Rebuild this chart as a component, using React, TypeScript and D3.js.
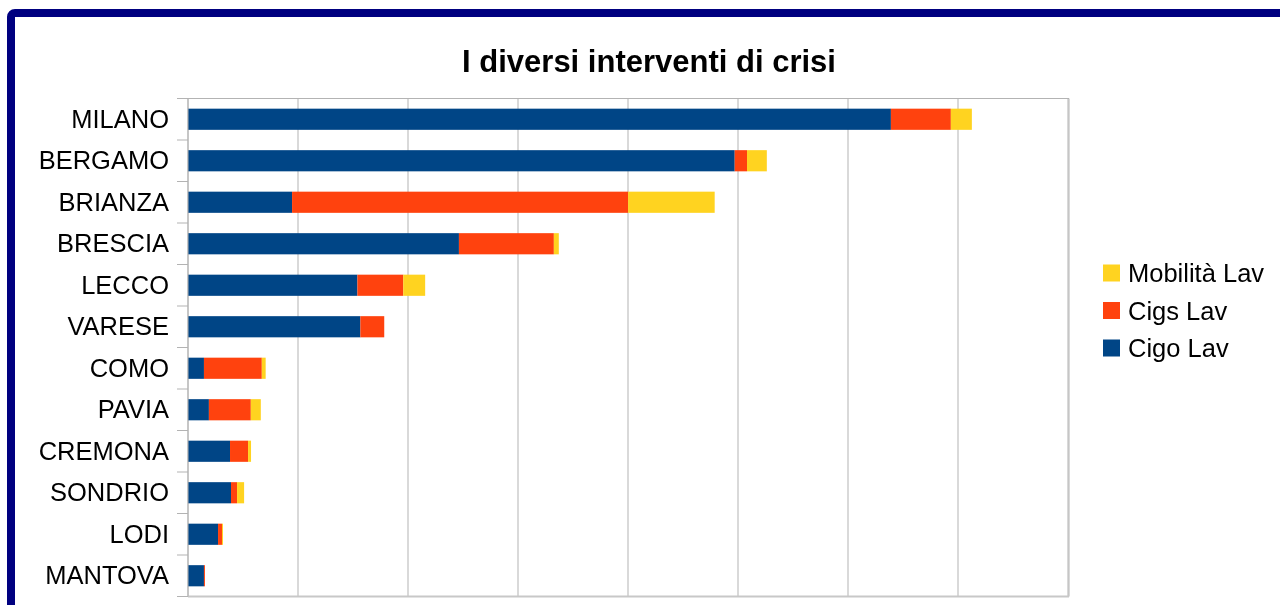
import { useEffect, useRef } from 'react'
import * as d3 from 'd3'

const categories = ['MILANO', 'BERGAMO', 'BRIANZA', 'BRESCIA', 'LECCO', 'VARESE', 'COMO', 'PAVIA', 'CREMONA', 'SONDRIO', 'LODI', 'MANTOVA']
const cigoLav = [63900, 49700, 9460, 24630, 15400, 15670, 1450, 1900, 3820, 3910, 2730, 1450]
const cigsLav = [5450, 1120, 30550, 8630, 4170, 2170, 5260, 3810, 1640, 550, 360, 90]
const mobilitaLav = [1910, 1800, 7870, 450, 1990, 0, 350, 910, 270, 640, 90, 0]
const seriesNames = ['Cigo Lav', 'Cigs Lav', 'Mobilità Lav']
const seriesColors = ['#004586', '#ff420e', '#ffd320']
const xTicks = [0, 10000, 20000, 30000, 40000, 50000, 60000, 70000, 80000]

const FONT = '"Liberation Sans", Arial, sans-serif'

export default function App() {
  const ref = useRef<SVGSVGElement>(null)

  useEffect(() => {
    if (!ref.current) return
    d3.select(ref.current).selectAll('*').remove()
    render(ref.current)
  }, [])

  return (
    <div style={{ position: 'fixed', left: 0, top: 0 }}>
      <svg ref={ref} width={1280} height={605} style={{ display: 'block' }} />
    </div>
  )
}

function render(el: SVGSVGElement) {
  const svg = d3.select(el).style('font-family', FONT)
  const plot = { left: 188, right: 1069, top: 98.5, bottom: 596.5 }

  // frame
  svg.append('rect')
    .attr('x', 11).attr('y', 13)
    .attr('width', 1300).attr('height', 620)
    .attr('rx', 4)
    .attr('fill', '#ffffff')
    .attr('stroke', '#000080')
    .attr('stroke-width', 8)

  // title
  svg.append('text')
    .attr('x', 649).attr('y', 72)
    .attr('text-anchor', 'middle')
    .attr('font-size', 31)
    .attr('font-weight', 'bold')
    .attr('fill', '#000')
    .text('I diversi interventi di crisi')

  const x = d3.scaleLinear().domain([0, 80000]).range([plot.left, plot.right - 1])
  const y = d3.scaleBand().domain(categories).range([plot.top, plot.bottom])
    .paddingInner(0.49).paddingOuter(0.245)

  const g = svg.append('g')

  // vertical gridlines
  g.selectAll('line.grid').data(xTicks).join('line')
    .attr('x1', (d) => x(d)).attr('x2', (d) => x(d))
    .attr('y1', plot.top).attr('y2', plot.bottom)
    .attr('stroke', '#b3b3b3').attr('stroke-width', 1)

  // plot borders top / right / bottom
  g.append('line').attr('x1', plot.left).attr('x2', plot.right)
    .attr('y1', plot.top).attr('y2', plot.top).attr('stroke', '#b3b3b3')
  g.append('line').attr('x1', plot.right).attr('x2', plot.right)
    .attr('y1', plot.top).attr('y2', plot.bottom).attr('stroke', '#b3b3b3')
  g.append('line').attr('x1', plot.left).attr('x2', plot.right)
    .attr('y1', plot.bottom).attr('y2', plot.bottom).attr('stroke', '#c8c8c8').attr('stroke-width', 2)

  // category tick marks at band boundaries
  const step = y.step()
  const bounds = d3.range(categories.length + 1).map((i) => plot.top + i * step)
  g.selectAll('line.tick').data(bounds).join('line')
    .attr('x1', plot.left - 11).attr('x2', plot.left)
    .attr('y1', (d) => d).attr('y2', (d) => d)
    .attr('stroke', '#b3b3b3')

  // stacked bars
  const rows = categories.map((c, i) => ({ cat: c, vals: [cigoLav[i], cigsLav[i], mobilitaLav[i]] }))
  rows.forEach((r) => {
    let acc = 0
    r.vals.forEach((v, si) => {
      if (v > 0) {
        g.append('rect')
          .attr('x', x(acc))
          .attr('y', y(r.cat)!)
          .attr('width', x(acc + v) - x(acc))
          .attr('height', y.bandwidth())
          .attr('fill', seriesColors[si])
      }
      acc += v
    })
  })

  // left axis line
  g.append('line').attr('x1', plot.left).attr('x2', plot.left)
    .attr('y1', plot.top).attr('y2', plot.bottom).attr('stroke', '#b3b3b3')

  // category labels
  g.selectAll('text.cat').data(categories).join('text')
    .attr('x', 169)
    .attr('y', (d) => y(d)! + y.bandwidth() / 2)
    .attr('dy', '0.34em')
    .attr('text-anchor', 'end')
    .attr('font-size', 25.5)
    .attr('fill', '#000')
    .text((d) => d)

  // legend (reverse order)
  const legendOrder = [2, 1, 0]
  legendOrder.forEach((si, i) => {
    const cy = 273 + i * 37.5
    svg.append('rect')
      .attr('x', 1103).attr('y', cy - 8.5)
      .attr('width', 17).attr('height', 17)
      .attr('fill', seriesColors[si])
    svg.append('text')
      .attr('x', 1128).attr('y', cy)
      .attr('dy', '0.36em')
      .attr('font-size', 25.5)
      .attr('fill', '#000')
      .text(seriesNames[si])
  })
}
